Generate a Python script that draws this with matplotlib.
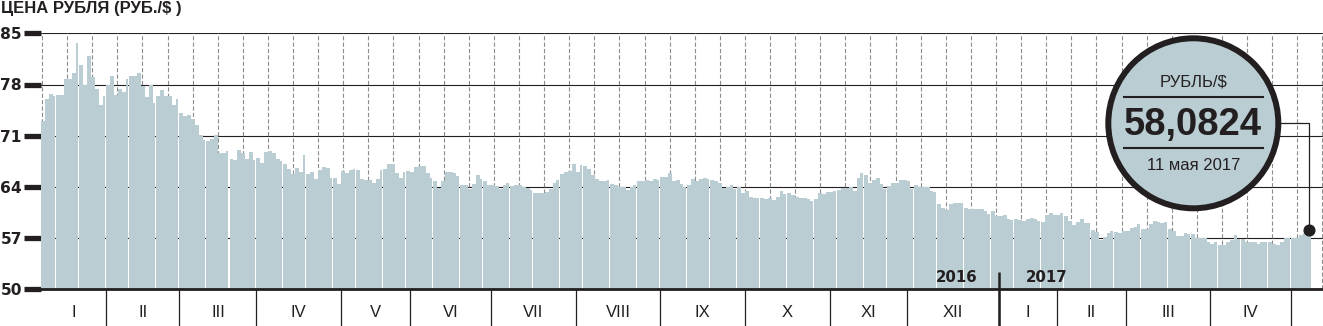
import numpy as np
import matplotlib
matplotlib.use("Agg")
import matplotlib.pyplot as plt
from matplotlib.patches import Circle
from matplotlib.lines import Line2D
from matplotlib.transforms import ScaledTranslation, blended_transform_factory

# ---------------- data (RUB per USD, CBR daily rate) ----------------
title = "ЦЕНА РУБЛЯ (РУБ./$ )"
month_labels = ["I", "II", "III", "IV", "V", "VI", "VII", "VIII", "IX", "X", "XI", "XII",
                "I", "II", "III", "IV", ""]
year_labels = ["2016", "2017"]
yticks = [50, 57, 64, 71, 78, 85]

jan16 = [73.0, 76.0, 76.7, 76.4, 76.6, 76.6, 78.8, 78.7, 79.6, 83.7, 80.7, 77.9, 81.9, 79.0, 77.4, 75.2, 76.4]
feb16 = [77.9, 79.2, 76.6, 77.4, 77.0, 78.8, 79.2, 79.2, 79.6, 77.8, 76.3, 77.9, 75.5, 76.4, 77.3, 76.4, 76.4, 75.2, 76.0]
mar16 = [74.1, 73.7, 73.8, 73.3, 72.5, 71.1, 70.4, 70.3, 70.6, 71.1, 68.6, 68.6, 68.9, 67.8, 67.7, 69.0, 68.6, 67.8, 68.8, 67.7]
apr16 = [68.0, 67.3, 68.8, 68.9, 68.6, 67.8, 67.5, 67.1, 66.5, 65.8, 66.6, 66.0, 68.4, 65.8, 66.0, 65.1, 66.3, 66.7, 66.6, 65.2, 65.2, 64.4]
may16 = [66.2, 65.9, 66.3, 66.4, 66.3, 65.1, 65.0, 65.0, 64.5, 65.1, 66.3, 66.4, 67.1, 67.1, 65.9, 65.2, 66.0, 66.2]
jun16 = [66.0, 66.7, 66.9, 66.9, 65.9, 65.2, 64.8, 63.9, 64.8, 66.0, 66.0, 65.9, 65.5, 64.3, 64.3, 63.7, 64.4, 65.6, 65.1, 64.8, 64.3]
jul16 = [64.3, 64.1, 63.7, 64.3, 64.6, 64.1, 64.3, 64.3, 64.0, 63.9, 63.6, 63.2, 63.2, 63.1, 63.3, 63.7, 64.6, 64.9, 65.8, 66.0, 66.2, 67.1]
aug16 = [66.0, 67.0, 66.9, 66.5, 65.6, 65.1, 64.8, 64.8, 64.9, 64.4, 64.3, 64.0, 64.0, 63.6, 64.0, 64.3, 64.8, 64.8, 64.9, 64.8, 65.1, 64.9]
sep16 = [65.3, 65.3, 65.9, 64.8, 64.9, 64.4, 64.0, 64.3, 65.1, 64.8, 65.1, 65.2, 65.1, 64.9, 64.8, 64.5, 63.9, 64.0, 64.3, 63.7, 64.0, 63.2]
oct16 = [63.4, 62.6, 62.5, 62.5, 62.5, 62.3, 62.5, 62.2, 62.6, 63.4, 63.0, 63.2, 62.9, 62.6, 62.5, 62.5, 62.3, 62.1, 62.3, 63.2, 63.0, 63.3]
nov16 = [63.3, 63.4, 63.6, 63.9, 63.9, 64.0, 63.4, 65.2, 65.9, 65.6, 64.6, 64.9, 65.2, 64.4, 63.7, 64.1, 64.6, 64.6, 64.9, 64.9]
dec16 = [64.8, 63.7, 64.3, 64.0, 64.0, 64.0, 63.4, 63.3, 61.7, 61.1, 60.8, 61.7, 61.8, 61.8, 61.8, 61.1, 61.0, 61.0, 61.0, 61.0, 60.7, 60.3, 60.7, 60.0]
jan17 = [60.0, 60.2, 59.6, 59.5, 59.6, 59.5, 59.3, 59.6, 59.7, 59.6, 59.3, 59.2, 60.2, 60.4, 60.2]
feb17 = [60.2, 60.4, 60.0, 59.3, 58.8, 59.2, 59.6, 59.1, 59.0, 58.1, 57.8, 56.8, 57.2, 57.7, 58.0, 57.9, 57.7, 58.0]
mar17 = [58.0, 58.4, 58.5, 58.9, 58.2, 58.2, 58.9, 59.3, 59.2, 59.1, 59.2, 58.2, 58.0, 57.3, 57.3, 57.7, 57.6, 57.5, 57.0, 57.0, 57.0, 56.5]
apr17 = [56.2, 56.4, 56.1, 56.0, 56.5, 56.7, 57.4, 56.9, 56.9, 56.5, 56.5, 56.4, 56.2, 56.4, 56.5, 56.4, 56.2, 56.0, 56.5, 57.0, 57.0]
may17 = [57.0, 57.0, 57.4, 57.7, 58.0824]

badge_title = "РУБЛЬ/$"
badge_value = "58,0824"
badge_date = "11 мая 2017"

# ---------------- styling ----------------
BAR = "#b9cdd2"
INK = "#231f20"
DASH = "#8c8c8c"
plt.rcParams["lines.scale_dashes"] = False

months = [jan16, feb16, mar16, apr16, may16, jun16, jul16, aug16, sep16, oct16, nov16, dec16,
          jan17, feb17, mar17, apr17, may17]
rates = np.concatenate([np.asarray(m, float) for m in months])
month_len = np.array([len(m) for m in months])
N = len(rates)

W, H = 1323, 326
fig = plt.figure(figsize=(W / 100, H / 100), dpi=100)
ax_l, ax_r, ax_t, ax_b = 41.0, 1323.0, 33.3, 289.3
ax = fig.add_axes([ax_l / W, 1 - ax_b / H, (ax_r - ax_l) / W, (ax_b - ax_t) / H])
ymin, ymax = yticks[0], yticks[-1]
XMAX = N * 1282.0 / 1269.5
ax.set_xlim(0, XMAX)
ax.set_ylim(ymin, ymax)
ax.set_axisbelow(True)

# bars, grouped with thin white gaps
gap_after = {3 + int(j * 6.571) for j in range(60)}
widths = np.array([0.72 if i in gap_after else 1.0 for i in range(N)])
ax.bar(np.arange(N), rates - ymin, bottom=ymin, width=widths, align="edge",
       color=BAR, linewidth=0, antialiased=False, zorder=2)

# dashed vertical grid
for xv in np.arange(0.26, XMAX, 6.526):
    ax.axvline(xv, color=DASH, lw=0.8, ls=(0, (3.0, 1.6)), zorder=1)

# horizontal grid + y ticks
ax.set_yticks(yticks)
ax.yaxis.grid(True, color=INK, lw=0.8)
ax.tick_params(axis="y", length=12.2, width=3.8, color=INK, pad=1.5, labelsize=11.2,
               labelcolor=INK, direction="out")
for lab in ax.get_yticklabels():
    lab.set_fontweight("bold")
    lab.set_family(["DejaVu Sans"])

for s in ["top", "right", "left"]:
    ax.spines[s].set_visible(False)
ax.spines["bottom"].set_linewidth(2.0)
ax.spines["bottom"].set_color(INK)
ax.spines["bottom"].set_zorder(4)

# month boundaries
bounds = np.cumsum(month_len)
ax.set_xticks(bounds[:-1])
ax.tick_params(axis="x", length=27, width=0.9, color=INK, labelbottom=False, direction="out")
blend = blended_transform_factory(ax.transData, ax.transAxes)
starts = np.concatenate([[0], bounds[:-1]])
for s0, s1, lab in zip(starts, bounds, month_labels):
    ax.text((s0 + s1) / 2, -0.107, lab, transform=blend, ha="center", va="baseline",
            fontsize=12, color=INK, family=["Liberation Sans", "DejaVu Sans"])

# year divider
yb = bounds[11]
ax.plot([yb, yb], [-0.16, 0.069], transform=blend, color=INK, lw=1.8, clip_on=False,
        zorder=5, solid_capstyle="butt")
ax.annotate(year_labels[0], xy=(yb, 0.03), xycoords=blend, xytext=(-15.5, 0),
            textcoords="offset points", ha="right", va="baseline", fontsize=10.8,
            fontweight="bold", color=INK, family=["DejaVu Sans"], zorder=6)
ax.annotate(year_labels[1], xy=(yb, 0.03), xycoords=blend, xytext=(19.5, 0),
            textcoords="offset points", ha="left", va="baseline", fontsize=10.8,
            fontweight="bold", color=INK, family=["DejaVu Sans"], zorder=6)

# title
fig.text(1 / W, 1 - 1.5 / H, title, ha="left", va="top", fontsize=12, fontweight="bold",
         color=INK, family=["Liberation Sans", "DejaVu Sans"])

# badge circle with latest value
cx_ax = (1193.3 - ax_l) / (ax_r - ax_l)
cy_ax = (ax_b - 123.3) / (ax_b - ax_t)
trans = fig.dpi_scale_trans + ScaledTranslation(cx_ax, cy_ax, ax.transAxes)
R = 0.85
fig.add_artist(Circle((0, 0), R, transform=trans, facecolor=BAR, edgecolor=INK, lw=4.3, zorder=10))
for yy in (0.266, -0.25):
    fig.add_artist(Line2D([-0.695, 0.695], [yy, yy], transform=trans, color=INK, lw=1.5, zorder=11))
fig.text(0, 0.366, badge_title, transform=trans, ha="center", va="baseline", fontsize=12,
         color=INK, family=["Liberation Sans", "DejaVu Sans"], zorder=11)
fig.text(0, -0.117, badge_value, transform=trans, ha="center", va="baseline", fontsize=27.5,
         fontweight="bold", color=INK, family=["Liberation Sans", "DejaVu Sans"], zorder=11)
fig.text(0, -0.467, badge_date, transform=trans, ha="center", va="baseline", fontsize=12,
         color=INK, family=["Liberation Sans", "DejaVu Sans"], zorder=11)

# connector from badge to last bar
last_x = N - 0.5
last_v = rates[-1]
y_c = ymin + cy_ax * (ymax - ymin)
x_edge = XMAX * (cx_ax + (R * 100 + 2) / (ax_r - ax_l))
ax.plot([x_edge, last_x, last_x], [y_c, y_c, last_v], color=INK, lw=0.9, zorder=7, clip_on=False)
ax.plot([last_x], [last_v], "o", ms=7.7, color=INK, zorder=8, clip_on=False)

fig.savefig("out.png", dpi=100)
